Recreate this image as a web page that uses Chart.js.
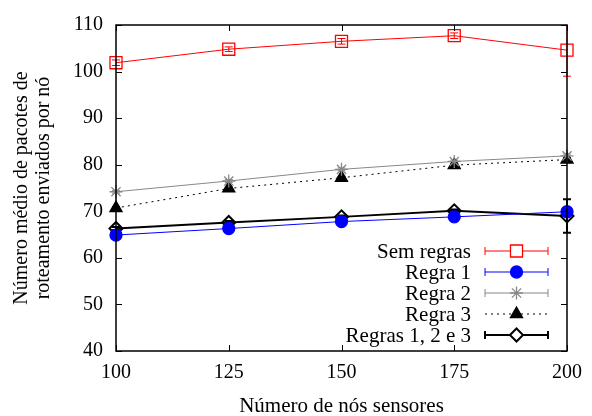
<!DOCTYPE html>
<html>
<head>
<meta charset="utf-8">
<script src="https://cdn.jsdelivr.net/npm/chart.js@4/dist/chart.umd.min.js"></script>
<style>
  html, body { margin: 0; padding: 0; background: #fff; }
  #wrap { width: 592px; height: 416px; }
</style>
</head>
<body>
<div id="wrap"><canvas id="c" width="592" height="416"></canvas></div>
<script>
// Number of sensor nodes (x axis)
const nodes = [100, 125, 150, 175, 200];

// Mean routing packets sent per node, one array per rule set
const semRegras  = [101.9, 104.8, 106.5, 107.7, 104.6];
const regra1     = [64.9, 66.3, 67.8, 68.8, 69.9];
const regra2     = [74.2, 76.5, 79.0, 80.7, 81.9];
const regra3     = [70.7, 74.9, 77.2, 79.9, 81.1];
const regras123  = [66.3, 67.6, 68.8, 70.1, 69.0];

// Half-width of the confidence interval at each point
const errSemRegras = [0.6, 0.5, 0.6, 0.6, 5.6];
const errRegra1    = [0.3, 0.3, 0.3, 0.3, 0.4];
const errRegra2    = [0.3, 0.3, 0.3, 0.3, 0.4];
const errRegra3    = [0.3, 0.3, 0.3, 0.3, 0.4];
const errRegras123 = [0.3, 0.3, 0.3, 0.3, 3.6];

const xTicks = [100, 125, 150, 175, 200];
const yTicks = [40, 50, 60, 70, 80, 90, 100, 110];

const FONT = '"Liberation Serif", "Times New Roman", serif';

function pts(ys) { return nodes.map((x, i) => ({ x, y: ys[i] })); }

const series = [
  { label: 'Sem regras', data: semRegras, err: errSemRegras, color: '#ff0000', width: 1, dash: [], style: 'rect', radius: 8.5, fill: false },
  { label: 'Regra 1', data: regra1, err: errRegra1, color: '#0000ff', width: 1, dash: [], style: 'circle', radius: 6, fill: true },
  { label: 'Regra 2', data: regra2, err: errRegra2, color: '#888888', width: 1, dash: [], style: 'star', radius: 6.5, fill: false },
  { label: 'Regra 3', data: regra3, err: errRegra3, color: '#000000', width: 1, dash: [2, 4], style: 'triangle', radius: 7, fill: true },
  { label: 'Regras 1, 2 e 3', data: regras123, err: errRegras123, color: '#000000', width: 2, dash: [], style: 'rectRot', radius: 6.5, fill: false }
];

// Error bars, drawn from the same data through the chart's scales
const errorBars = {
  id: 'errorBars',
  beforeDatasetsDraw(chart) {
    const { ctx, chartArea, scales: { x, y } } = chart;
    ctx.save();
    ctx.beginPath();
    ctx.rect(chartArea.left - 10, chartArea.top, chartArea.right - chartArea.left + 20, chartArea.bottom - chartArea.top);
    ctx.clip();
    series.forEach(s => {
      ctx.strokeStyle = s.color;
      ctx.lineWidth = s.width;
      ctx.setLineDash([]);
      nodes.forEach((n, i) => {
        const px = x.getPixelForValue(n);
        const lo = y.getPixelForValue(s.data[i] - s.err[i]);
        const hi = y.getPixelForValue(s.data[i] + s.err[i]);
        ctx.beginPath();
        ctx.moveTo(px, lo); ctx.lineTo(px, hi);
        ctx.moveTo(px - 4, lo); ctx.lineTo(px + 4, lo);
        ctx.moveTo(px - 4, hi); ctx.lineTo(px + 4, hi);
        ctx.stroke();
      });
    });
    ctx.restore();
  }
};

// Frame with inward tick marks on all four sides
const frame = {
  id: 'frame',
  afterDatasetsDraw(chart) {
    const { ctx, chartArea: a, scales: { x, y } } = chart;
    ctx.save();
    ctx.strokeStyle = '#000';
    ctx.lineWidth = 1;
    ctx.setLineDash([]);
    ctx.beginPath();
    xTicks.forEach(v => {
      const px = Math.round(x.getPixelForValue(v)) + 0.5;
      ctx.moveTo(px, a.bottom); ctx.lineTo(px, a.bottom - 6);
      ctx.moveTo(px, a.top); ctx.lineTo(px, a.top + 6);
    });
    yTicks.forEach(v => {
      const py = Math.round(y.getPixelForValue(v)) + 0.5;
      ctx.moveTo(a.left, py); ctx.lineTo(a.left + 6, py);
      ctx.moveTo(a.right, py); ctx.lineTo(a.right - 6, py);
    });
    ctx.stroke();
    ctx.lineWidth = 1.5;
    ctx.strokeRect(a.left, a.top, a.right - a.left, a.bottom - a.top);
    ctx.restore();
  }
};

// Key in the lower right corner with error-bar style samples
const key = {
  id: 'key',
  afterDraw(chart) {
    const { ctx } = chart;
    const textRight = 471, lineL = 485, lineR = 548, top = 251, step = 21;
    ctx.save();
    ctx.font = '21px ' + FONT;
    ctx.textAlign = 'right';
    ctx.textBaseline = 'middle';
    series.forEach((s, i) => {
      const yy = top + i * step;
      ctx.fillStyle = '#000';
      ctx.fillText(s.label, textRight, yy + 1);
      ctx.strokeStyle = s.color;
      ctx.lineWidth = s.width;
      ctx.setLineDash(s.dash);
      ctx.beginPath();
      ctx.moveTo(lineL, yy); ctx.lineTo(lineR, yy);
      ctx.stroke();
      ctx.setLineDash([]);
      if (s.dash.length === 0) {
        ctx.beginPath();
        ctx.moveTo(lineL, yy - 4); ctx.lineTo(lineL, yy + 4);
        ctx.moveTo(lineR, yy - 4); ctx.lineTo(lineR, yy + 4);
        ctx.stroke();
      }
      ctx.fillStyle = s.fill ? s.color : '#fff';
      ctx.strokeStyle = s.color;
      ctx.lineWidth = s.width === 2 ? 2 : 1.3;
      Chart.helpers.drawPoint(ctx, {
        pointStyle: s.style, radius: s.radius, borderWidth: ctx.lineWidth, rotation: 0
      }, (lineL + lineR) / 2, yy);
    });
    ctx.restore();
  }
};

new Chart(document.getElementById('c'), {
  type: 'line',
  data: {
    datasets: series.map(s => ({
      label: s.label,
      data: pts(s.data),
      borderColor: s.color,
      borderWidth: s.width,
      borderDash: s.dash,
      pointStyle: s.style,
      pointRadius: s.radius,
      pointBorderWidth: s.width === 2 ? 2 : 1.3,
      pointBorderColor: s.color,
      pointBackgroundColor: s.fill ? s.color : 'rgba(255,255,255,0)',
      tension: 0,
      fill: false,
      clip: false
    }))
  },
  options: {
    responsive: false,
    animation: false,
    events: [],
    layout: { padding: { top: 14, right: 20, left: 0, bottom: -3 } },
    plugins: { legend: { display: false }, tooltip: { enabled: false } },
    scales: {
      x: {
        type: 'linear', min: 100, max: 200,
        afterBuildTicks: s => { s.ticks = xTicks.map(v => ({ value: v })); },
        grid: { display: false, drawTicks: false },
        border: { display: false },
        ticks: { color: '#000', font: { family: FONT, size: 20 }, padding: 10, maxRotation: 0 },
        title: { display: true, text: 'Número de nós sensores', color: '#000', font: { family: FONT, size: 21 }, padding: { top: 12, bottom: 0 } },
        afterFit: s => { s.height = 68; }
      },
      y: {
        type: 'linear', min: 40, max: 110,
        afterBuildTicks: s => { s.ticks = yTicks.map(v => ({ value: v })); },
        grid: { display: false, drawTicks: false },
        border: { display: false },
        ticks: { color: '#000', font: { family: FONT, size: 20 }, padding: 13 },
        title: { display: true, text: ['Número médio de pacotes de', 'roteamento enviados por nó'], color: '#000', font: { family: FONT, size: 20, lineHeight: 1.1 }, padding: { top: 11, bottom: 0 } },
        afterFit: s => { s.width = 116; }
      }
    }
  },
  plugins: [errorBars, frame, key]
});
</script>
</body>
</html>
